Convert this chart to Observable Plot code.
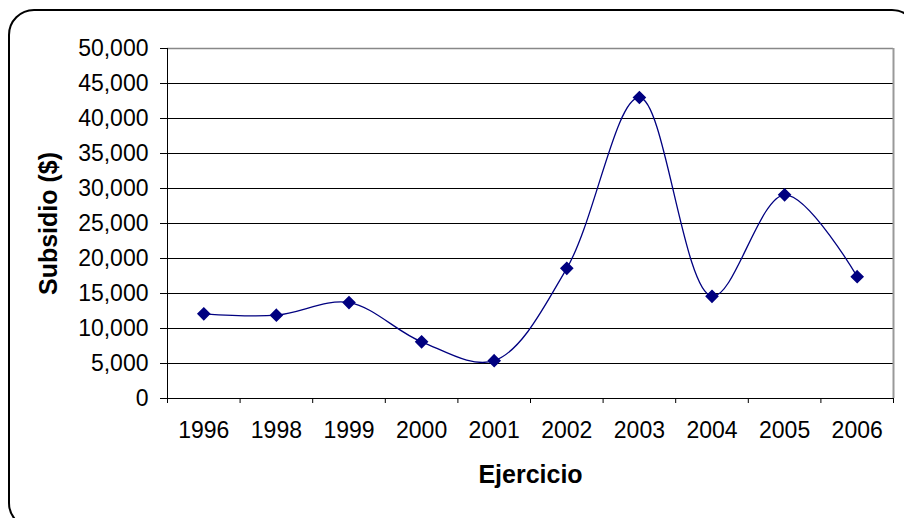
<!DOCTYPE html>
<html><head><meta charset="utf-8">
<script src="https://cdn.jsdelivr.net/npm/d3@7"></script>
<script src="https://cdn.jsdelivr.net/npm/@observablehq/plot@0.6"></script>
<style>
html,body{margin:0;padding:0;background:#fff;overflow:hidden;width:904px;height:518px;}
#wrap{position:relative;width:904px;height:518px;}
#border{position:absolute;left:8px;top:9px;width:910px;height:520px;border:2px solid #000;border-radius:26px;box-sizing:border-box;}
#chart{position:absolute;left:0;top:0;}
</style></head>
<body><div id="wrap"><div id="border"></div><div id="chart"></div></div>
<script>
const years = ["1996","1998","1999","2000","2001","2002","2003","2004","2005","2006"];
const subsidio = [12100, 11900, 13700, 8100, 5400, 18600, 43000, 14600, 29100, 17400];
const yTicks = [0,5000,10000,15000,20000,25000,30000,35000,40000,45000,50000];

const data = years.map((y,i)=>({i: i+0.5, year: y, v: subsidio[i]}));
const bounds = d3.range(0, years.length+1);
const font = "Liberation Sans, Arial, sans-serif";

const plot = Plot.plot({
  width: 904, height: 518,
  marginLeft: 167, marginRight: 11, marginTop: 48, marginBottom: 120,
  style: {fontFamily: font, fontSize: "23px", color: "#000", background: "transparent"},
  x: {type: "linear", domain: [0, years.length]},
  y: {domain: [0, 50000]},
  marks: [
    Plot.ruleY(yTicks.slice(0,-1), {stroke: "#000", strokeWidth: 1}),
    Plot.ruleY([50000], {stroke: "#888", strokeWidth: 1.5}),
    Plot.ruleX([years.length], {stroke: "#999", strokeWidth: 2}),
    Plot.axisY({ticks: yTicks, tickFormat: d3.format(","), tickSize: 7, tickPadding: 12, label: null, stroke: "#000", fontSize: 23}),
    Plot.axisX({ticks: bounds, tickFormat: () => "", tickSize: 5, label: null, stroke: "#000"}),
    Plot.axisX({ticks: data.map(d=>d.i), tickFormat: (d) => years[Math.floor(d)], tickSize: 0, tickPadding: 23, label: null, fontSize: 23}),
    Plot.ruleX([0], {stroke: "#000", strokeWidth: 1}),
    Plot.ruleY([0], {stroke: "#000", strokeWidth: 1}),
    Plot.line(data, {x: "i", y: "v", curve: "catmull-rom", stroke: "#000080", strokeWidth: 1.3}),
    Plot.dot(data, {x: "i", y: "v", symbol: "diamond2", r: 5.2, fill: "#000080", stroke: "#000080"}),
    Plot.text(["Subsidio ($)"], {frameAnchor: "left", textAnchor: "middle", dx: -119, rotate: -90, fontWeight: "bold", fontSize: 25, fill: "#000"}),
    Plot.text(["Ejercicio"], {frameAnchor: "bottom", dy: 84, fontWeight: "bold", fontSize: 25, fill: "#000"})
  ]
});
document.getElementById("chart").appendChild(plot);
</script></body></html>
